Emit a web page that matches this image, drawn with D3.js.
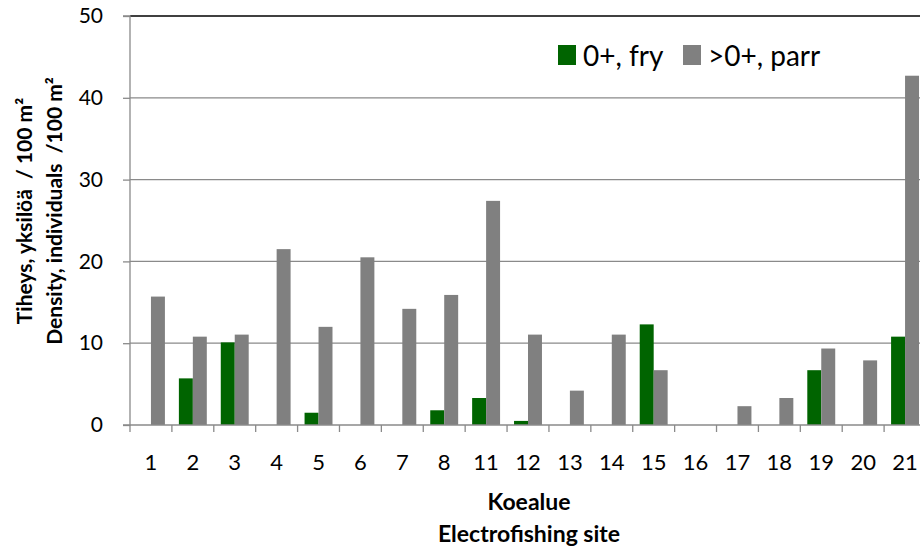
<!DOCTYPE html>
<html><head><meta charset="utf-8">
<script src="https://cdnjs.cloudflare.com/ajax/libs/d3/7.8.5/d3.min.js"></script>
<style>body{margin:0;background:#fff;overflow:hidden}svg{display:block}text{white-space:pre}</style>
</head><body><div id="chart"></div>
<script>
const categories = ["1","2","3","4","5","6","7","8","11","12","13","14","15","16","17","18","19","20","21"];
const fry  = [0, 5.7, 10.1, 0, 1.5, 0, 0, 1.8, 3.3, 0.5, 0, 0, 12.3, 0, 0, 0, 6.7, 0, 10.8];
const parr = [15.7, 10.8, 11.05, 21.5, 12.0, 20.5, 14.2, 15.9, 27.4, 11.05, 4.2, 11.05, 6.7, 0, 2.3, 3.3, 9.35, 7.9, 42.7];
const seriesNames = ["0+, fry", ">0+, parr"];
const yTicks = [0, 10, 20, 30, 40, 50];
const colors = ["#006400", "#808080"];

const W = 920, H = 548;
const m = {left:130, top:16, plotW:796, plotH:409};
const font = "Lato, 'Open Sans', sans-serif";

const svg = d3.select("#chart").append("svg").attr("width", W).attr("height", H)
  .style("font-family", font);

const x = d3.scaleBand().domain(categories).range([m.left, m.left + m.plotW]).paddingInner(0).paddingOuter(0);
const y = d3.scaleLinear().domain([0, 50]).range([m.top + m.plotH, m.top]);
const bw = x.bandwidth() / 3;

// gridlines
svg.append("g").selectAll("line").data(yTicks.filter(d => d > 0 && d < 50)).join("line")
  .attr("x1", m.left).attr("x2", m.left + m.plotW)
  .attr("y1", d => y(d)).attr("y2", d => y(d))
  .attr("stroke", "#8a8a8a").attr("stroke-width", 1.3);

// top border
svg.append("line").attr("x1", m.left).attr("x2", m.left + m.plotW)
  .attr("y1", y(50)).attr("y2", y(50)).attr("stroke", "#000").attr("stroke-width", 1.5);

// bars
const data = categories.map((c, i) => ({c, vals: [fry[i], parr[i]]}));
const g = svg.append("g");
data.forEach(d => {
  d.vals.forEach((v, s) => {
    if (v <= 0) return;
    g.append("rect")
      .attr("x", x(d.c) + bw * 0.5 + s * bw)
      .attr("y", y(v))
      .attr("width", bw)
      .attr("height", y(0) - y(v))
      .attr("fill", colors[s]);
  });
});

// y axis
const yAxis = d3.axisLeft(y).tickValues(yTicks).tickSize(7).tickPadding(20);
const ya = svg.append("g").attr("transform", `translate(${m.left},0)`).call(yAxis);
ya.select(".domain").attr("stroke", "#8a8a8a").attr("stroke-width", 1.3).attr("d", `M-7,${y(50)}H0V${y(0)}H-7`);
ya.selectAll(".tick line").attr("stroke", "#8a8a8a").attr("stroke-width", 1.3);
ya.selectAll(".tick text").attr("font-size", 21).attr("fill", "#000").attr("font-family", font);

// x axis
const xAxis = d3.axisBottom(x).tickSize(0).tickPadding(29);
const xa = svg.append("g").attr("transform", `translate(0,${y(0)})`).call(xAxis);
xa.select(".domain").attr("stroke", "#8a8a8a").attr("stroke-width", 1.3).attr("d", `M${m.left},0H${m.left + m.plotW}`);
xa.selectAll(".tick text").attr("font-size", 22).attr("fill", "#000").attr("font-family", font);
// category boundary ticks
const bounds = categories.map(c => x(c)).concat([m.left + m.plotW]);
xa.append("g").selectAll("line").data(bounds).join("line")
  .attr("x1", d => d).attr("x2", d => d).attr("y1", 0).attr("y2", 7)
  .attr("stroke", "#8a8a8a").attr("stroke-width", 1.3);

// axis titles
svg.append("text").attr("x", 529).attr("y", 510).attr("text-anchor", "middle")
  .attr("font-size", 23).attr("font-weight", "bold").text("Koealue");
svg.append("text").attr("x", 529).attr("y", 542).attr("text-anchor", "middle")
  .attr("font-size", 23).attr("font-weight", "bold").text("Electrofishing site");

const yt = svg.append("text").attr("transform", "translate(0,211) rotate(-90)")
  .attr("text-anchor", "middle").attr("font-size", 21).attr("font-weight", "bold");
yt.append("tspan").attr("x", 0).attr("y", 32).text("Tiheys, yksilöä  / 100 m²");
yt.append("tspan").attr("x", 0).attr("y", 62).text("Density, individuals  /100 m²");

// legend
const leg = svg.append("g");
const legX = [558, 683];
seriesNames.forEach((n, i) => {
  leg.append("rect").attr("x", legX[i]).attr("y", 45).attr("width", 18).attr("height", 20).attr("fill", colors[i]);
  leg.append("text").attr("x", legX[i] + 25).attr("y", 66).attr("font-size", 28).attr("fill", "#000").text(n);
});
</script></body></html>
